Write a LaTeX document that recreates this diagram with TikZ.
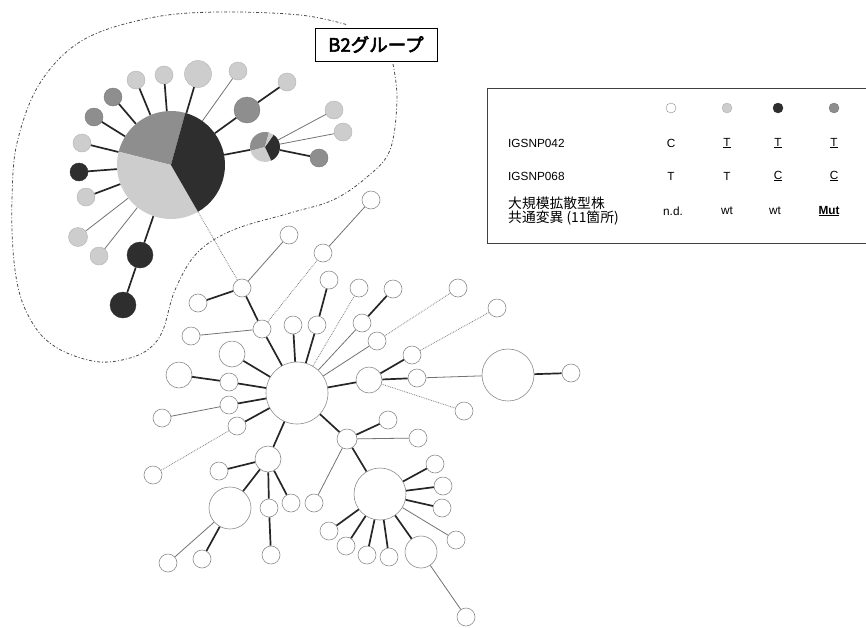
\documentclass[tikz,border=0pt]{standalone}
\usepackage{fontspec}
\setmainfont{Liberation Sans}
\newfontfamily\cjk{Noto Sans CJK JP}
\newfontfamily\cjkb[FakeBold=3]{Noto Sans CJK JP}
\definecolor{lg}{HTML}{CDCDCD}
\definecolor{mg}{HTML}{8E8E8E}
\definecolor{dg}{HTML}{2E2E2E}
\newcommand\myul[1]{\underline{#1}}
\tikzset{
  nd/.style={circle, draw=black!45, fill=white, line width=0.6pt, inner sep=0pt, minimum size=#1},
  nd/.default=18pt,
  lf/.style={circle, inner sep=0pt, line width=0.4pt, minimum size=#1},
  lf/.default=18pt,
  lfL/.style={fill=lg, draw=black!30},
  lfM/.style={fill=mg, draw=mg!85!black},
  lfD/.style={fill=dg, draw=dg},
  thk/.style={line width=1.7pt, draw=black!85},
  thn/.style={line width=0.8pt, draw=black!55},
  dts/.style={line width=0.8pt, draw=black!50, densely dotted},
  txt/.style={inner sep=0pt, font=\fontsize{11.8}{13}\selectfont},
}
\begin{document}
\begin{tikzpicture}[x=1pt, y=-1pt]
\useasboundingbox (0,0) rectangle (866,627);
\clip (0,0) rectangle (866,627);
\fill[white] (0,0) rectangle (866,627);

% ---------- B2 group outline ----------
\draw[line width=0.8pt, black!70, dash pattern=on 3pt off 2pt on 1pt off 2pt]
  plot[smooth, tension=0.6] coordinates {
  (393,64) (397,100) (390,150) (367,177) (333,200) (290,213) (233,230) (197,253)
  (175,290) (163,330) (150,348) (130,358) (100,362) (67,353) (43,337) (27,313)
  (18,287) (13,250) (12,200) (17,143) (40,83) (83,40) (150,18) (217,12) (300,15) (348,25)};

\node[draw=black, line width=0.9pt, fill=white, minimum width=122pt, minimum height=33pt, inner sep=0pt,
      font=\cjkb\fontsize{18.5}{20}\selectfont] (lab) at (376,44.5) {B2グループ};

% ---------- B2 pies ----------
\node[circle, inner sep=0pt, minimum size=108pt] (P) at (171,165) {};
\fill[mg] (P.center) -- ++(-74.6:54) arc[start angle=-74.6, end angle=-165.7, radius=54] -- cycle;
\fill[lg] (P.center) -- ++(-165.7:54) arc[start angle=-165.7, end angle=-300, radius=54] -- cycle;
\fill[dg] (P.center) -- ++(60:54) arc[start angle=60, end angle=-74.6, radius=54] -- cycle;

\node[circle, inner sep=0pt, minimum size=30pt] (S) at (265,147) {};
\fill[mg] (S.center) -- ++(-75:15) arc[start angle=-75, end angle=-195, radius=15] -- cycle;
\fill[lg] (S.center) -- ++(-195:15) arc[start angle=-195, end angle=-295, radius=15] -- cycle;
\fill[dg] (S.center) -- ++(65:15) arc[start angle=65, end angle=-55, radius=15] -- cycle;
\fill[lg] (S.center) -- ++(-55:15) arc[start angle=-55, end angle=-75, radius=15] -- cycle;

% ---------- B2 leaves ----------
\node[lf, lfL] (b1) at (136,80) {};
\node[lf, lfL] (b2) at (164,75) {};
\node[lf=27pt, lfL] (b3) at (198,74) {};
\node[lf, lfL] (b4) at (238,71) {};
\node[lf=26pt, lfM] (b6) at (247,110) {};
\node[lf, lfL] (b5) at (287,82) {};
\node[lf, lfM] (b7) at (113,97) {};
\node[lf, lfM] (b8) at (94,117) {};
\node[lf, lfL] (b9) at (82,143) {};
\node[lf, lfD] (b10) at (79,172) {};
\node[lf, lfL] (b11) at (86,197) {};
\node[lf=19pt, lfL] (b12) at (78,237) {};
\node[lf, lfL] (b13) at (99,256) {};
\node[lf=26pt, lfD] (b14) at (140,255) {};
\node[lf=26pt, lfD] (b15) at (123,305) {};
\node[lf, lfL] (b16) at (334,110) {};
\node[lf, lfL] (b17) at (343,132) {};
\node[lf, lfM] (b18) at (319,158) {};

\draw[thk] (P) -- (b1);
\draw[thk] (P) -- (b2);
\draw[thk] (P) -- (b3);
\draw[thn] (P) -- (b4);
\draw[thk] (P) -- (b6);
\draw[thk] (b6) -- (b5);
\draw[thk] (P) -- (b7);
\draw[thk] (P) -- (b8);
\draw[thk] (P) -- (b9);
\draw[thk] (P) -- (b10);
\draw[thk] (P) -- (b11);
\draw[thn] (P) -- (b12);
\draw[thn] (P) -- (b13);
\draw[thk] (P) -- (b14);
\draw[thk] (b14) -- (b15);
\draw[thk] (P) -- (S);
\draw[thn] (S) -- (b16);
\draw[thn] (S) -- (b17);
\draw[thk] (S) -- (b18);

% ---------- lower network nodes ----------
\node[nd] (A) at (242,288) {};
\node[nd] (a1) at (198,303) {};
\node[nd] (a2) at (289,235) {};
\node[nd] (B) at (262,329) {};
\node[nd] (bb1) at (191,336) {};
\node[nd] (a3) at (323,253) {};
\node[nd] (a4) at (371,200) {};
\node[nd=62pt] (C) at (297,393) {};
\node[nd] (c1) at (293,325) {};
\node[nd] (c2) at (317,325) {};
\node[nd] (c3) at (329,280) {};
\node[nd] (c4) at (359,288) {};
\node[nd] (c5) at (362,323) {};
\node[nd] (c6) at (393,289) {};
\node[nd] (c7) at (377,341) {};
\node[nd] (c8) at (458,288) {};
\node[nd=26pt] (D) at (369,380) {};
\node[nd] (d1) at (412,355) {};
\node[nd] (d2) at (497,308) {};
\node[nd] (d3) at (417,378) {};
\node[nd=52pt] (E) at (508,375) {};
\node[nd] (e1) at (571,373) {};
\node[nd] (d4) at (464,411) {};
\node[nd=26pt] (c9) at (232,354) {};
\node[nd] (c10) at (229,382) {};
\node[nd=26pt] (c11) at (179,375) {};
\node[nd] (c12) at (229,405) {};
\node[nd] (c13) at (162,418) {};
\node[nd] (c14) at (237,426) {};
\node[nd] (c15) at (153,475) {};
\node[nd=26pt] (G) at (268,459) {};
\node[nd] (g1) at (219,471) {};
\node[nd=42pt] (H) at (230,508) {};
\node[nd] (h1) at (168,563) {};
\node[nd] (h2) at (202,559) {};
\node[nd] (g2) at (269,508) {};
\node[nd] (g3) at (271,555) {};
\node[nd] (g4) at (291,503) {};
\node[nd=20pt] (F) at (347,439) {};
\node[nd] (f1) at (388,420) {};
\node[nd] (f2) at (418,438) {};
\node[nd] (f3) at (314,503) {};
\node[nd=52pt] (I) at (380,494) {};
\node[nd] (i1) at (435,464) {};
\node[nd] (i2) at (443,486) {};
\node[nd] (i3) at (442,508) {};
\node[nd] (i4) at (456,540) {};
\node[nd] (i5) at (329,531) {};
\node[nd] (i6) at (346,546) {};
\node[nd] (i7) at (367,555) {};
\node[nd] (i8) at (389,557) {};
\node[nd=32pt] (J) at (421,552) {};
\node[nd] (j1) at (466,617) {};

% ---------- lower network edges ----------
\draw[dts] (P) -- (A);
\draw[thk] (A) -- (a1);
\draw[thn] (A) -- (a2);
\draw[thk] (A) -- (B);
\draw[thn] (B) -- (bb1);
\draw[dts] (B) -- (a3);
\draw[thn] (a3) -- (a4);
\draw[thk] (B) -- (C);
\draw[thk] (C) -- (c1);
\draw[thk] (C) -- (c2);
\draw[thk] (c2) -- (c3);
\draw[dts] (C) -- (c4);
\draw[thn] (C) -- (c5);
\draw[thk] (c5) -- (c6);
\draw[thn] (C) -- (c7);
\draw[dts] (c7) -- (c8);
\draw[thk] (C) -- (D);
\draw[thk] (D) -- (d1);
\draw[dts] (d1) -- (d2);
\draw[thk] (D) -- (d3);
\draw[thn] (d3) -- (E);
\draw[thk] (E) -- (e1);
\draw[dts] (D) -- (d4);
\draw[thk] (C) -- (c9);
\draw[thk] (C) -- (c10);
\draw[thk] (c10) -- (c11);
\draw[thk] (C) -- (c12);
\draw[thn] (c12) -- (c13);
\draw[thk] (C) -- (c14);
\draw[dts] (c14) -- (c15);
\draw[thk] (C) -- (G);
\draw[thk] (G) -- (g1);
\draw[thk] (G) -- (H);
\draw[thn] (H) -- (h1);
\draw[thk] (H) -- (h2);
\draw[thk] (G) -- (g2);
\draw[thk] (g2) -- (g3);
\draw[thk] (G) -- (g4);
\draw[thk] (C) -- (F);
\draw[thk] (F) -- (f1);
\draw[thn] (F) -- (f2);
\draw[thn] (F) -- (f3);
\draw[thk] (F) -- (I);
\draw[thk] (I) -- (i1);
\draw[thk] (I) -- (i2);
\draw[thk] (I) -- (i3);
\draw[thn] (I) -- (i4);
\draw[thk] (I) -- (i5);
\draw[thk] (I) -- (i6);
\draw[thk] (I) -- (i7);
\draw[thk] (I) -- (i8);
\draw[thk] (I) -- (J);
\draw[thn] (J) -- (j1);

% ---------- legend ----------
\node[draw=black!75, line width=0.9pt, minimum width=400pt, minimum height=155pt, anchor=north west, inner sep=0pt] (leg) at (487,88) {};
\node[lf=10pt, fill=white, draw=black!45] (k1) at (671,108) {};
\node[lf=10pt, lfL] (k2) at (727,108) {};
\node[lf=10pt, lfD] (k3) at (778,108) {};
\node[lf=10pt, lfM] (k4) at (834,108) {};

\node[txt, anchor=west] (r1) at (508,143) {IGSNP042};
\node[txt] (r1a) at (671,143) {C};
\node[txt] (r1b) at (727,143) {\myul{T}};
\node[txt] (r1c) at (778,143) {\myul{T}};
\node[txt] (r1d) at (834,143) {\myul{T}};

\node[txt, anchor=west] (r2) at (508,176) {IGSNP068};
\node[txt] (r2a) at (671,176) {T};
\node[txt] (r2b) at (727,176) {T};
\node[txt] (r2c) at (778,176) {\myul{C}};
\node[txt] (r2d) at (834,176) {\myul{C}};

\node[inner sep=0pt, anchor=west, font=\cjk\fontsize{13.8}{15}\selectfont] (r3) at (508,203) {大規模拡散型株};
\node[inner sep=0pt, anchor=west, font=\cjk\fontsize{13.8}{15}\selectfont] (r3b) at (508,218) {共通変異 (11箇所)};
\node[txt] (r3a) at (673,211) {n.d.};
\node[txt] (r3c) at (727,211) {wt};
\node[txt] (r3d) at (775,211) {wt};
\node[txt] (r3e) at (829,211) {\myul{\textbf{Mut}}};
\end{tikzpicture}
\end{document}
